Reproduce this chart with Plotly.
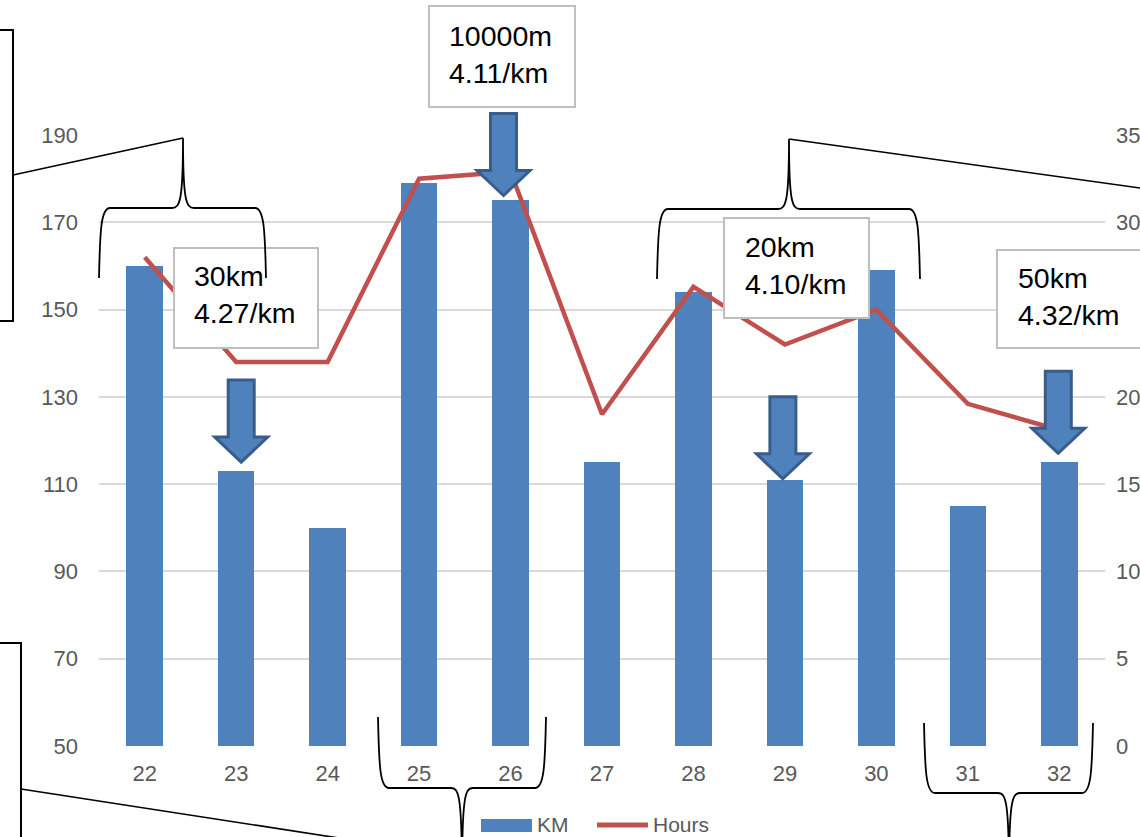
import plotly.graph_objects as go

# Weekly training volume
weeks = [22, 23, 24, 25, 26, 27, 28, 29, 30, 31, 32]
km = [160, 113, 100, 179, 175, 115, 154, 111, 159, 105, 115]
hours = [28.0, 22.0, 22.0, 32.5, 32.9, 19.0, 26.3, 23.0, 25.0, 19.6, 18.1]

km_ticks = [50, 70, 90, 110, 130, 150, 170, 190]
hour_ticks = [0, 5, 10, 15, 20, 25, 30, 35]
# the 25 h label sits under the 50km note box
hour_tick_text = ["0", "5", "10", "15", "20", "", "30", "35"]

# Key sessions called out with an arrow and a note
key_weeks = [23, 26, 29, 32]
key_notes = ["30km<br>4.27/km", "10000m<br>4.11/km", "20km<br>4.10/km", "50km<br>4.32/km"]

BLUE = "#4F81BD"
BLUE_EDGE = "#385D8A"
RED = "#C0504D"
GRID = "#D9D9D9"
TICK = "#595959"
FONT = "Liberation Sans, Arial, sans-serif"

W, H = 1140, 837
L, R, T, B = 99, 1105, 135, 746  # plot area in page pixels
X_RANGE = [21.5, 32.5]
KM_RANGE = [50, 190]


def rel(x, y):
    """Page pixel -> pixel offset from the plot-area origin (y up)."""
    return x - L, B - y


def data_rel(wk, val):
    """Data value -> pixel offset from the plot-area origin (y up)."""
    a = (wk - X_RANGE[0]) / (X_RANGE[1] - X_RANGE[0]) * (R - L)
    b = (val - KM_RANGE[0]) / (KM_RANGE[1] - KM_RANGE[0]) * (B - T)
    return a, b


def brace(x0, x1, xt, y_end, y_bar, y_tip, r=11):
    s = 1 if y_tip > y_bar else -1
    def p(x, y):
        a, b = rel(x, y)
        return f"{a:.1f},{b:.1f}"
    return (
        f"M {p(x0, y_end)} "
        f"C {p(x0 + 1, y_bar - s * 22)} {p(x0 + 2, y_bar)} {p(x0 + r, y_bar)} "
        f"L {p(xt - r, y_bar)} "
        f"C {p(xt - 3, y_bar)} {p(xt, y_bar + s * 8)} {p(xt, y_tip)} "
        f"C {p(xt, y_bar + s * 8)} {p(xt + 3, y_bar)} {p(xt + r, y_bar)} "
        f"L {p(x1 - r, y_bar)} "
        f"C {p(x1 - 2, y_bar)} {p(x1 - 1, y_bar - s * 22)} {p(x1, y_end)}"
    )


def page_shape(**kw):
    d = dict(xref="paper", yref="paper", xsizemode="pixel", ysizemode="pixel",
             xanchor=0, yanchor=0, layer="above")
    d.update(kw)
    return d


def page_line(x0, y0, x1, y1, width=1.6, color="black"):
    a0, b0 = rel(x0, y0)
    a1, b1 = rel(x1, y1)
    return page_shape(type="line", x0=a0, y0=b0, x1=a1, y1=b1,
                      line=dict(color=color, width=width))


def page_rect(x0, y0, x1, y1, line_color, width, fill="rgba(0,0,0,0)"):
    a0, b0 = rel(x0, y0)
    a1, b1 = rel(x1, y1)
    return page_shape(type="rect", x0=a0, y0=b1, x1=a1, y1=b0,
                      line=dict(color=line_color, width=width), fillcolor=fill)


fig = go.Figure()
fig.add_trace(go.Bar(x=weeks, y=km, name="KM", marker=dict(color=BLUE, line_width=0),
                     width=0.4, showlegend=False))
fig.add_trace(go.Scatter(x=weeks, y=hours, name="Hours", yaxis="y2", mode="lines",
                         line=dict(color=RED, width=4.5), showlegend=False))

shapes = []

# note boxes: (left, top, right, bottom) in page pixels
note_boxes = [(174, 248, 318, 348), (429, 6, 575, 107), (724, 218, 869, 318), (997, 250, 1160, 348)]
for (x0, y0, x1, y1) in note_boxes:
    shapes.append(page_rect(x0, y0, x1, y1, "#BFBFBF", 2, "white"))

# block arrows pointing at the key weeks; tip offset from the bar top (dx, gap) in pixels
arrow_offsets = [(5, 9), (-7, 5), (-2, 1), (-1, 9)]
hw, sw, hh, tl = 26.5, 13, 25, 82  # head half-width, shaft half-width, head height, length
for wk, (dx, gap) in zip(key_weeks, arrow_offsets):
    bx, by = data_rel(wk, km[weeks.index(wk)])
    tx, ty = bx + dx, by + gap
    pts = [(tx, ty), (tx - hw, ty + hh), (tx - sw, ty + hh), (tx - sw, ty + tl),
           (tx + sw, ty + tl), (tx + sw, ty + hh), (tx + hw, ty + hh)]
    path = "M " + " L ".join(f"{a:.1f},{b:.1f}" for a, b in pts) + " Z"
    shapes.append(page_shape(type="path", path=path, fillcolor=BLUE,
                             line=dict(color=BLUE_EDGE, width=3)))

# braces grouping weeks
brace_line = dict(color="black", width=1.8)
shapes.append(page_shape(type="path", path=brace(99, 266, 183, 278, 208, 138), line=brace_line))
shapes.append(page_shape(type="path", path=brace(657, 920, 789, 279, 209, 139), line=brace_line))
shapes.append(page_shape(type="path", path=brace(378, 546, 462, 717, 788, 880), line=brace_line))
shapes.append(page_shape(type="path", path=brace(924, 1093, 1009, 723, 793, 880), line=brace_line))

# side panels and connectors
shapes.append(page_rect(-20, 30, 13, 321, "black", 2))
shapes.append(page_rect(-20, 643, 21, 900, "black", 2))
shapes.append(page_line(13, 175, 183, 138))
shapes.append(page_line(789, 139, 1240, 202))
shapes.append(page_line(21, 789, 462, 857))

# legend keys
shapes.append(page_rect(481, 819, 532, 832, BLUE, 0, BLUE))
shapes.append(page_line(597, 825, 648, 825, width=5, color=RED))

annotations = []
note_text_pos = [(192, 258), (447, 18), (743, 229), (1016, 260)]
for text, (x, y) in zip(key_notes, note_text_pos):
    annotations.append(dict(xref="paper", yref="paper", x=(x - L) / (R - L), y=(B - y) / (B - T),
                            xanchor="left", yanchor="top", align="left", text=text,
                            showarrow=False, font=dict(family=FONT, size=28.5, color="black")))
for text, x in [("KM", 536), ("Hours", 652)]:
    annotations.append(dict(xref="paper", yref="paper", x=(x - L) / (R - L), y=(B - 824.5) / (B - T),
                            xanchor="left", yanchor="middle", text=text, showarrow=False,
                            borderpad=0, font=dict(family=FONT, size=21, color=TICK)))

fig.update_layout(
    width=W, height=H, template="none",
    margin=dict(l=L, r=W - R, t=T, b=H - B, pad=0),
    paper_bgcolor="white", plot_bgcolor="white",
    font=dict(family=FONT, size=22, color=TICK),
    showlegend=False,
    bargap=0,
    xaxis=dict(range=X_RANGE, tickvals=weeks, ticktext=[str(w) for w in weeks],
               showgrid=False, zeroline=False, showline=False, ticks="",
               ticklabelstandoff=12, automargin=False, tickfont=dict(size=22, color=TICK)),
    yaxis=dict(range=KM_RANGE, tickvals=km_ticks, showgrid=True, gridcolor=GRID, gridwidth=1.5,
               zeroline=False, showline=False, ticks="", ticklabelstandoff=20,
               automargin=False, tickfont=dict(size=22, color=TICK)),
    yaxis2=dict(range=[0, 35], tickvals=hour_ticks, ticktext=hour_tick_text,
                overlaying="y", side="right",
                showgrid=False, zeroline=False, showline=False, ticks="",
                ticklabelstandoff=10, automargin=False, tickfont=dict(size=22, color=TICK)),
    shapes=shapes,
    annotations=annotations,
)

fig.write_html("out.html")
